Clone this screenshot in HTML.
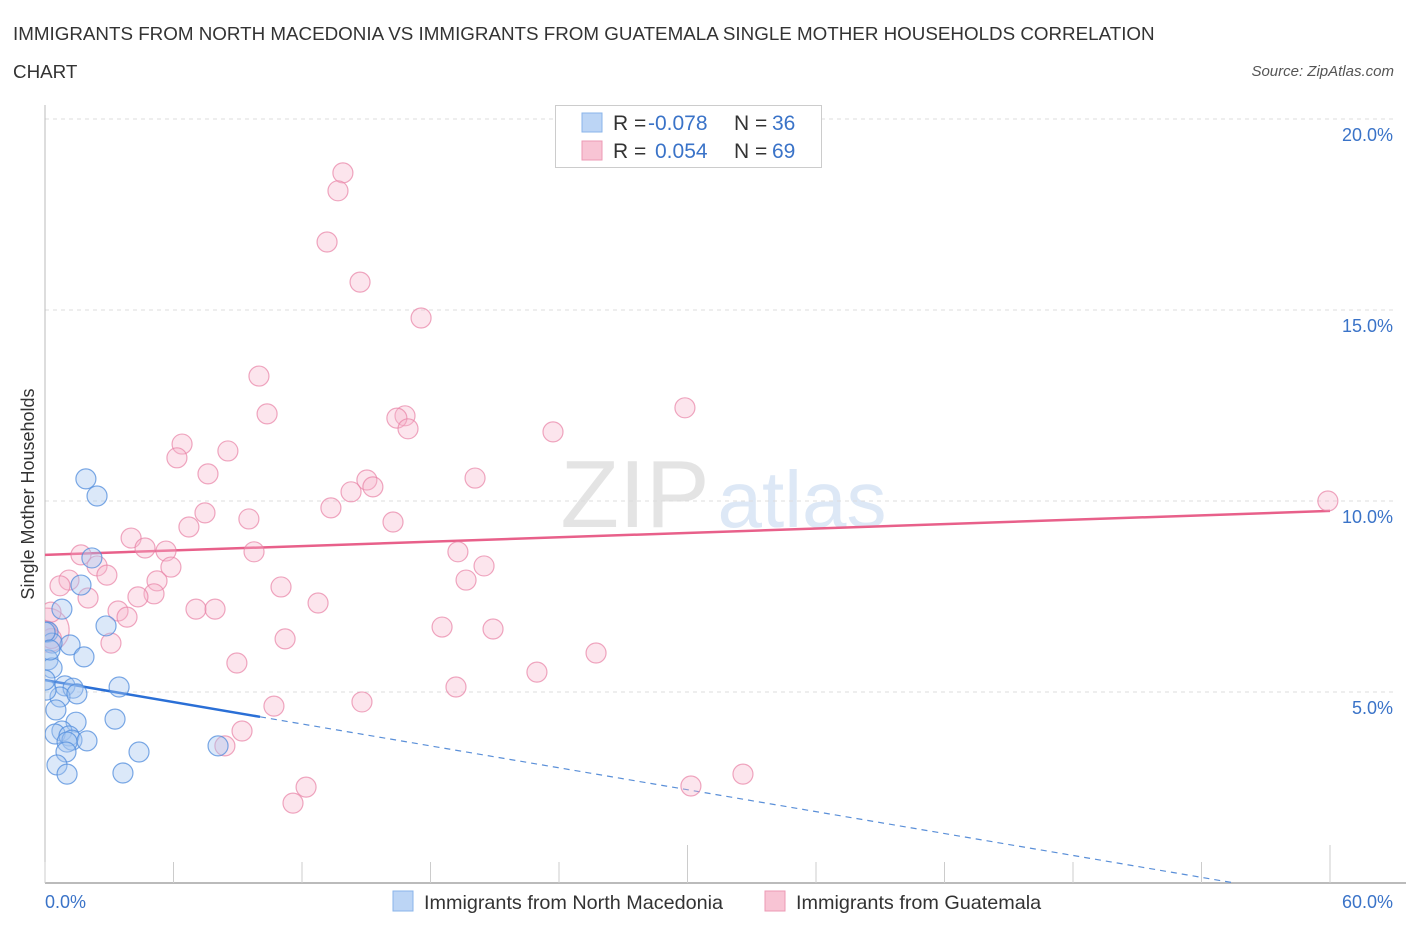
<!DOCTYPE html>
<html><head><meta charset="utf-8">
<style>
body{margin:0;background:#fff;font-family:"Liberation Sans",sans-serif;}
svg text{font-family:"Liberation Sans",sans-serif;}
</style></head>
<body>
<svg id="chart" width="1406" height="930" viewBox="0 0 1406 930" xmlns="http://www.w3.org/2000/svg">
<defs><clipPath id="plotclip"><rect x="45" y="90" width="1361" height="793"/></clipPath></defs>
<text x="13" y="40" font-size="18.8" fill="#333">IMMIGRANTS FROM NORTH MACEDONIA VS IMMIGRANTS FROM GUATEMALA SINGLE MOTHER HOUSEHOLDS CORRELATION</text>
<text x="13" y="78" font-size="18.8" fill="#333">CHART</text>
<text x="1394" y="76" font-size="15" fill="#555" text-anchor="end" font-style="italic">Source: ZipAtlas.com</text>
<g>
<text x="635" y="527" font-size="96" fill="#e4e4e4" text-anchor="middle" font-family="Liberation Serif, serif">ZIP</text>
<text x="802" y="527" font-size="80" fill="#dde8f6" text-anchor="middle">atlas</text>
</g>
<g id="grid"></g>
<g id="axes"></g>
<g id="trends" clip-path="url(#plotclip)"></g>
<g id="points" clip-path="url(#plotclip)"></g>
<text transform="translate(34,494) rotate(-90)" font-size="18" fill="#333" text-anchor="middle">Single Mother Households</text>
<text x="45" y="908" font-size="18" fill="#3a73c8">0.0%</text>
<text x="1393" y="908" font-size="18" fill="#3a73c8" text-anchor="end">60.0%</text>
<g>
<rect x="555.5" y="105.5" width="266" height="62" fill="#fff" stroke="#ccc"/>
<rect x="582" y="113" width="20" height="19" fill="#bcd5f5" stroke="#8ab4ea"/>
<rect x="582" y="141" width="20" height="19" fill="#f8c4d4" stroke="#ec9ab4"/>
<text x="613" y="130" font-size="21" fill="#333">R = <tspan x="648" fill="#3a73c8">-0.078</tspan><tspan x="734">N = </tspan><tspan x="772" fill="#3a73c8">36</tspan></text>
<text x="613" y="158" font-size="21" fill="#333">R = <tspan x="655" fill="#3a73c8">0.054</tspan><tspan x="734">N = </tspan><tspan x="772" fill="#3a73c8">69</tspan></text>
</g>
<g>
<rect x="393" y="891" width="20" height="20" fill="#bcd5f5" stroke="#8ab4ea"/>
<text x="424" y="909" font-size="19.8" fill="#333">Immigrants from North Macedonia</text>
<rect x="765" y="891" width="20" height="20" fill="#f8c4d4" stroke="#ec9ab4"/>
<text x="796" y="909" font-size="19.8" fill="#333">Immigrants from Guatemala</text>
</g>
</svg>
<script>
const yTicks=[5,10,15,20];
const yTickLabels=["5.0%","10.0%","15.0%","20.0%"];
const xTicks=[0,6,12,18,24,30,36,42,48,54,60];
const blueX=[1.91,2.43,2.19,1.68,0.79,2.85,0.14,1.17,0.33,1.82,0.14,0.33,0.93,1.31,3.46,0.70,1.49,0.51,3.27,1.45,0.79,0.47,1.12,1.26,1.96,1.03,0.98,4.39,8.08,0.56,1.03,3.64,0,0.05,0.23,0];
const blueY=[10.58,10.13,8.51,7.80,7.17,6.73,6.57,6.23,6.28,5.92,5.84,5.63,5.16,5.10,5.13,4.87,4.95,4.53,4.29,4.21,3.98,3.90,3.85,3.74,3.72,3.69,3.43,3.43,3.59,3.09,2.85,2.88,6.57,5.05,6.10,5.31];
const pinkX=[13.91,13.68,13.17,14.71,17.56,9.99,10.37,16.81,16.43,16.95,29.88,23.72,6.40,8.54,6.16,7.61,15.03,15.31,20.08,14.29,13.35,7.47,9.52,6.72,16.25,59.90,4.02,4.67,5.65,9.76,1.68,19.28,2.43,5.88,20.50,2.89,1.12,5.23,19.66,0.70,2.01,11.02,5.09,4.34,3.41,12.75,7.05,7.94,3.83,3.08,11.21,18.54,20.92,25.73,8.96,22.97,19.19,14.80,10.69,9.20,8.40,12.19,11.58,30.16,32.59,0.10,0.30,0.28,0.05];
const pinkY=[18.59,18.12,16.78,15.73,14.79,13.27,12.28,12.23,12.17,11.89,12.44,11.81,11.49,11.31,11.13,10.71,10.55,10.37,10.60,10.24,9.82,9.69,9.53,9.32,9.45,10.00,9.03,8.77,8.69,8.67,8.59,8.67,8.30,8.27,8.30,8.06,7.93,7.91,7.93,7.78,7.46,7.75,7.57,7.49,7.12,7.33,7.17,7.17,6.96,6.28,6.39,6.70,6.65,6.02,5.76,5.52,5.13,4.74,4.63,3.98,3.59,2.51,2.09,2.54,2.85,6.62,6.40,7.09,6.60];
const pinkTrend=[8.59,9.74];
const blueTrend=[5.31,-0.0956];
const blueSolidEnd=10.04;

const NS="http://www.w3.org/2000/svg";
const X0=45,X1=1330,Y0=883,PX_PER=38.2;
function sx(v){return X0+(v/60)*(X1-X0);}
function sy(v){return Y0-v*PX_PER;}
function mk(tag,attrs,parent){const e=document.createElementNS(NS,tag);for(const k in attrs)e.setAttribute(k,attrs[k]);parent.appendChild(e);return e;}
const grid=document.getElementById('grid'),axes=document.getElementById('axes'),trends=document.getElementById('trends'),pts=document.getElementById('points');
yTicks.forEach((t,i)=>{
  const l=mk('line',{x1:X0,x2:1394,y1:sy(t),y2:sy(t),stroke:'#ddd','stroke-dasharray':'4,4'},grid);
  
  
  const tx=mk('text',{x:1393,y:sy(t)+22,'font-size':18,fill:'#3a73c8','text-anchor':'end'},grid);
  tx.textContent=yTickLabels[i];
  
  
});
const ya=mk('line',{x1:X0,x2:X0,y1:105,y2:Y0,stroke:'#bbb'},axes);


const xa=mk('line',{x1:X0,x2:1406,y1:Y0,y2:Y0,stroke:'#bbb','stroke-width':2},axes);


xTicks.forEach(t=>{
  const tall=(t===30||t===60);
  const tk=mk('line',{x1:sx(t),x2:sx(t),y1:tall?845:862,y2:Y0,stroke:'#ccc'},axes);
  
  
});
const pt=mk('line',{x1:sx(0),y1:sy(pinkTrend[0]),x2:sx(60),y2:sy(pinkTrend[1]),stroke:'#e8608a','stroke-width':2.5},trends);


const bAt=x=>blueTrend[0]+blueTrend[1]*x;
const bs=mk('line',{x1:sx(0),y1:sy(bAt(0)),x2:sx(blueSolidEnd),y2:sy(bAt(blueSolidEnd)),stroke:'#2a6fd6','stroke-width':2.5},trends);


const xz=-blueTrend[0]/blueTrend[1];
const bd=mk('line',{x1:sx(blueSolidEnd),y1:sy(bAt(blueSolidEnd)),x2:sx(xz),y2:sy(0),stroke:'#5a8fd8','stroke-width':1.2,'stroke-dasharray':'6,5'},trends);


pinkX.forEach((x,i)=>{
  const big=(i===65);
  const c=mk('circle',{cx:sx(x),cy:sy(pinkY[i]),r:big?22:10,fill:big?'rgba(248,190,208,0.3)':'rgba(246,180,202,0.35)',stroke:'rgba(232,130,165,0.7)','stroke-width':1.2},pts);
  
  
});
blueX.forEach((x,i)=>{
  const c=mk('circle',{cx:sx(x),cy:sy(blueY[i]),r:10,fill:'rgba(165,198,240,0.4)',stroke:'rgba(80,140,220,0.75)','stroke-width':1.2},pts);
  
  
});
</script>
</body></html>
